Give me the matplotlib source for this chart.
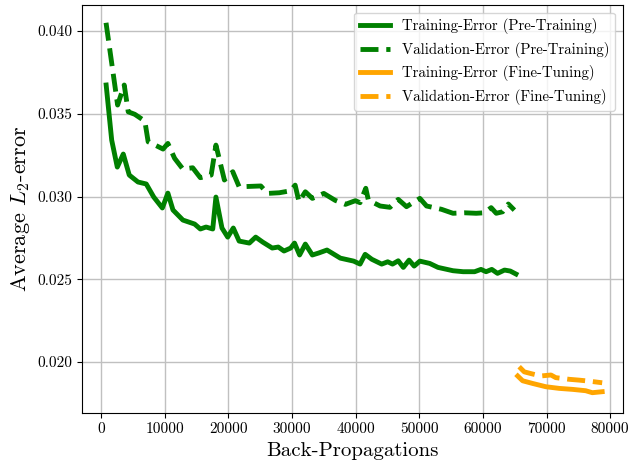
import matplotlib
matplotlib.use("Agg")
import matplotlib.pyplot as plt

plt.rcParams['font.family'] = 'serif'
plt.rcParams['font.serif'] = ['cmr10', 'DejaVu Serif']
plt.rcParams['mathtext.fontset'] = 'cm'
plt.rcParams['axes.formatter.use_mathtext'] = True
plt.rcParams['axes.unicode_minus'] = False

# Pre-training, training error
pre_train_x = [800, 1670, 2550, 3490, 4430, 5800, 7100, 8280, 9630, 10500, 11300, 12860,
               14700, 15600, 16500, 17550, 18050, 19000, 19900, 20780, 21700, 23300, 24300,
               25400, 26900, 27850, 28750, 29800, 30400, 31200, 32100, 33200, 34200, 35500,
               37600, 39700, 40700, 41500, 42550, 44100, 45050, 45800, 46700, 47500, 48400,
               49200, 50100, 51650, 52950, 55300, 56900, 58700, 59700, 60500, 61400, 62300,
               63400, 64300, 65200]
pre_train_y = [0.03674, 0.03341, 0.03178, 0.03257, 0.03130, 0.03088, 0.03076, 0.02997, 0.02931,
               0.03021, 0.02919, 0.02858, 0.02834, 0.02804, 0.02816, 0.02804, 0.02997, 0.02810,
               0.02755, 0.02810, 0.02731, 0.02719, 0.02755, 0.02725, 0.02689, 0.02695, 0.02671,
               0.02689, 0.02719, 0.02647, 0.02713, 0.02647, 0.02659, 0.02677, 0.02628, 0.02610,
               0.02592, 0.02651, 0.02621, 0.02592, 0.02606, 0.02592, 0.02612, 0.02572, 0.02616,
               0.02580, 0.02610, 0.02596, 0.02572, 0.02552, 0.02546, 0.02546, 0.02560, 0.02546,
               0.02560, 0.02536, 0.02556, 0.02550, 0.02532]

# Pre-training, validation error
pre_val_x = [780, 2600, 3640, 4270, 5300, 6880, 7400, 8700, 9740, 10500, 11560, 12860, 14400,
             15600, 17300, 18050, 19380, 20700, 21700, 25100, 26150, 28000, 29800, 30500,
             31100, 32100, 33200, 35000, 36800, 38400, 39950, 40700, 41600, 42000, 43850,
             45400, 46700, 48000, 49000, 50100, 51150, 53500, 55300, 57100, 58950, 60250,
             61300, 62100, 63100, 64000, 64950]
pre_val_y = [0.04050, 0.03553, 0.03674, 0.03512, 0.03497, 0.03456, 0.03331, 0.03307, 0.03287,
             0.03321, 0.03231, 0.03166, 0.03174, 0.03114, 0.03130, 0.03311, 0.03100, 0.03150,
             0.03059, 0.03064, 0.03019, 0.03023, 0.03035, 0.03069, 0.02969, 0.03029, 0.02989,
             0.03019, 0.02977, 0.02953, 0.02975, 0.02963, 0.03050, 0.02979, 0.02943, 0.02935,
             0.02983, 0.02939, 0.02963, 0.02989, 0.02943, 0.02923, 0.02899, 0.02902, 0.02899,
             0.02902, 0.02933, 0.02899, 0.02908, 0.02955, 0.02918]

# Fine-tuning, training error
ft_train_x = [65470, 66250, 67800, 69900, 72000, 74100, 76150, 77200, 78750]
ft_train_y = [0.01916, 0.01887, 0.01871, 0.01851, 0.01841, 0.01835, 0.01827, 0.01815, 0.01821]

# Fine-tuning, validation error
ft_val_x = [65700, 66500, 67800, 69100, 70700, 71450, 73550, 75100, 76650, 78750]
ft_val_y = [0.01972, 0.01941, 0.01928, 0.01916, 0.01922, 0.01906, 0.01896, 0.01891, 0.01885, 0.01875]

labels = ['Training-Error (Pre-Training)', 'Validation-Error (Pre-Training)',
          'Training-Error (Fine-Tuning)', 'Validation-Error (Fine-Tuning)']

fig = plt.figure(figsize=(6.33, 4.61), dpi=100)
ax = fig.add_axes([0.1295, 0.104, 0.8545, 0.885])

lw = 3.5
ax.plot(pre_train_x, pre_train_y, color='green', lw=lw, ls='-', label=labels[0])
ax.plot(pre_val_x, pre_val_y, color='green', lw=lw, ls='--', label=labels[1])
ax.plot(ft_train_x, ft_train_y, color='orange', lw=lw, ls='-', label=labels[2])
ax.plot(ft_val_x, ft_val_y, color='orange', lw=lw, ls='--', label=labels[3])

ax.set_xticks([0, 10000, 20000, 30000, 40000, 50000, 60000, 70000, 80000])
ax.set_xticklabels(['0', '10000', '20000', '30000', '40000', '50000', '60000', '70000', '80000'])
ax.set_yticks([0.020, 0.025, 0.030, 0.035, 0.040])
ax.set_yticklabels(['0.020', '0.025', '0.030', '0.035', '0.040'])
ax.tick_params(labelsize=11)
ax.set_xlim(-3000, 82000)
ax.set_ylim(0.01692, 0.04157)
ax.grid(True, color='#c0c0c0', lw=1.0)
ax.set_axisbelow(True)
ax.set_xlabel('Back-Propagations', fontsize=15)
ax.set_ylabel('Average $L_2$-error', fontsize=16)
ax.legend(loc='upper right', fontsize=10.7)

fig.savefig('out.png', dpi=100)
